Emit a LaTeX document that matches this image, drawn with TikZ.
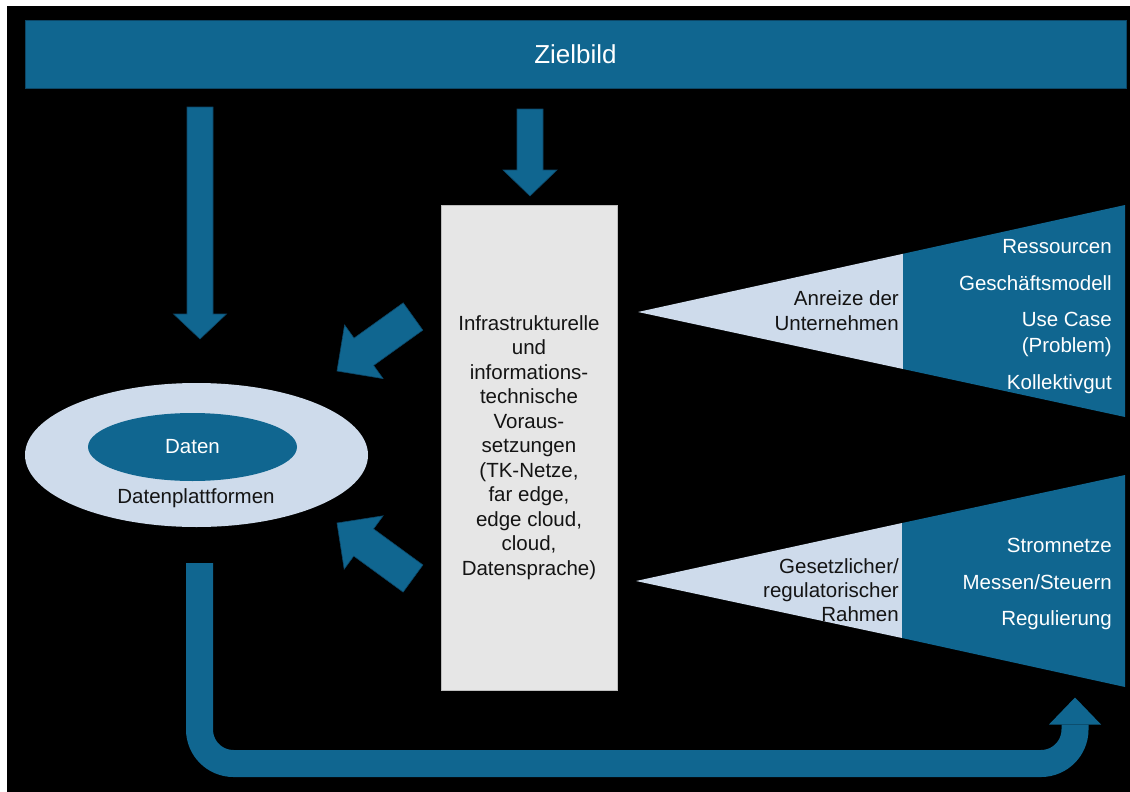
\documentclass[tikz,border=0pt]{standalone}
\usepackage{fontspec}
\setmainfont{Liberation Sans}
\usetikzlibrary{shapes.geometric,calc}

\definecolor{bandblue}{RGB}{16,102,144}
\definecolor{edgeblue}{RGB}{12,70,102}
\definecolor{paleblue}{RGB}{206,219,235}
\definecolor{boxgray}{RGB}{230,230,230}
\definecolor{boxedge}{RGB}{190,190,190}
\definecolor{inktext}{RGB}{20,20,20}

% block arrow: #1 tail, #2 tip, #3 half shaft width, #4 half head width, #5 head length
\newcommand{\blockarrow}[5]{%
  \coordinate (ba-h) at ($(#2)!#5!(#1)$);
  \fill[bandblue, draw=edgeblue, line width=0.6pt]
    ($(#1)!#3!90:(#2)$) -- ($(ba-h)!#3!90:(#2)$) -- ($(ba-h)!#4!90:(#2)$) --
    (#2) -- ($(ba-h)!#4!-90:(#2)$) -- ($(ba-h)!#3!-90:(#2)$) --
    ($(#1)!#3!-90:(#2)$) -- cycle;}

\begin{document}
\begin{tikzpicture}[x=1pt, y=-1pt,
  bodyfont/.style={font=\fontsize{20.5}{24.5}\selectfont},
  darklabel/.style={bodyfont, text=inktext, anchor=base east, inner sep=0pt},
  lightlabel/.style={bodyfont, text=white, anchor=base east, inner sep=0pt}]

% frame
\useasboundingbox (0,0) rectangle (1130,792);
\fill[white] (0,0) rectangle (1130,792);
\fill[black] (7,6) rectangle (1130,792);

% title band
\node[rectangle, fill=bandblue, draw=edgeblue, line width=0.8pt,
      minimum width=1101, minimum height=68, inner sep=0pt,
      text=white, font=\fontsize{26}{30}\selectfont] (ziel) at (575.5,54) {Zielbild};

% data platform ellipses
\node[ellipse, fill=paleblue, minimum width=343, minimum height=144, inner sep=0pt] (plat) at (196.5,455) {};
\node[ellipse, fill=bandblue, minimum width=209, minimum height=68, inner sep=0pt,
      text=white, bodyfont] (daten) at (192.5,447) {Daten};
\node[bodyfont, text=inktext, anchor=base, inner sep=0pt] (platlabel) at (196,503) {Datenplattformen};

% infrastructure box
\node[rectangle, fill=boxgray, draw=boxedge, line width=0.8pt,
      minimum width=176, minimum height=485, inner sep=0pt,
      align=center, bodyfont, text=inktext] (infra) at (529,447.5)
  {Infrastrukturelle\\und\\informations-\\technische\\Voraus-\\setzungen\\(TK-Netze,\\far edge,\\edge cloud,\\cloud,\\Datensprache)};

% block arrows from the title band
\coordinate (v1-tail) at (200,107);
\coordinate (v1-tip)  at (200,339);
\coordinate (v2-tail) at (530,109);
\coordinate (v2-tip)  at (530,196);
\blockarrow{v1-tail}{v1-tip}{13pt}{26.5pt}{25pt}
\blockarrow{v2-tail}{v2-tip}{13pt}{27pt}{26pt}

% block arrows from the box to the platform
\coordinate (d1-tail) at (413,316.5);
\coordinate (d1-tip)  at (337,371);
\coordinate (d2-tail) at (413,578.5);
\coordinate (d2-tip)  at (337,523);
\blockarrow{d1-tail}{d1-tip}{16.8pt}{33pt}{33pt}
\blockarrow{d2-tail}{d2-tip}{16.8pt}{33pt}{33pt}

% incentives wedge
\coordinate (w1-tip) at (638,312);
\fill[paleblue] (w1-tip) -- (903,253.8) -- (903,369) -- cycle;
\fill[bandblue] (903,253.8) -- (1125,205) -- (1125,417) -- (903,369) -- cycle;
\node[darklabel] (w1a) at (899,305) {Anreize der};
\node[darklabel] (w1b) at (899,330) {Unternehmen};
\node[lightlabel] (w1c) at (1112,253) {Ressourcen};
\node[lightlabel] (w1d) at (1112,290) {Geschäftsmodell};
\node[lightlabel] (w1e) at (1112,326) {Use Case};
\node[lightlabel] (w1f) at (1112,352) {(Problem)};
\node[lightlabel] (w1g) at (1112,389) {Kollektivgut};

% regulatory wedge
\coordinate (w2-tip) at (636,581);
\fill[paleblue] (w2-tip) -- (902,523) -- (902,638) -- cycle;
\fill[bandblue] (902,523) -- (1125,475) -- (1125,687) -- (902,638) -- cycle;
\node[darklabel] (w2a) at (899,573) {Gesetzlicher/};
\node[darklabel] (w2b) at (899,597) {regulatorischer};
\node[darklabel] (w2c) at (899,621) {Rahmen};
\node[lightlabel] (w2d) at (1112,552) {Stromnetze};
\node[lightlabel] (w2e) at (1112,589) {Messen/Steuern};
\node[lightlabel] (w2f) at (1112,625) {Regulierung};

% feedback arrow along the bottom
\coordinate (u-start) at (199.5,563);
\coordinate (u-end)   at (1075,724.5);
\coordinate (u-tip)   at (1075,697.5);
\draw[bandblue, line width=27pt, rounded corners=34pt]
  (u-start) -- (u-start |- 0,763.5) -- (u-end |- 0,763.5) -- (u-end);
\fill[bandblue] ($(u-end)+(-26,0)$) -- (u-tip) -- ($(u-end)+(26,0)$) -- cycle;

\end{tikzpicture}
\end{document}
